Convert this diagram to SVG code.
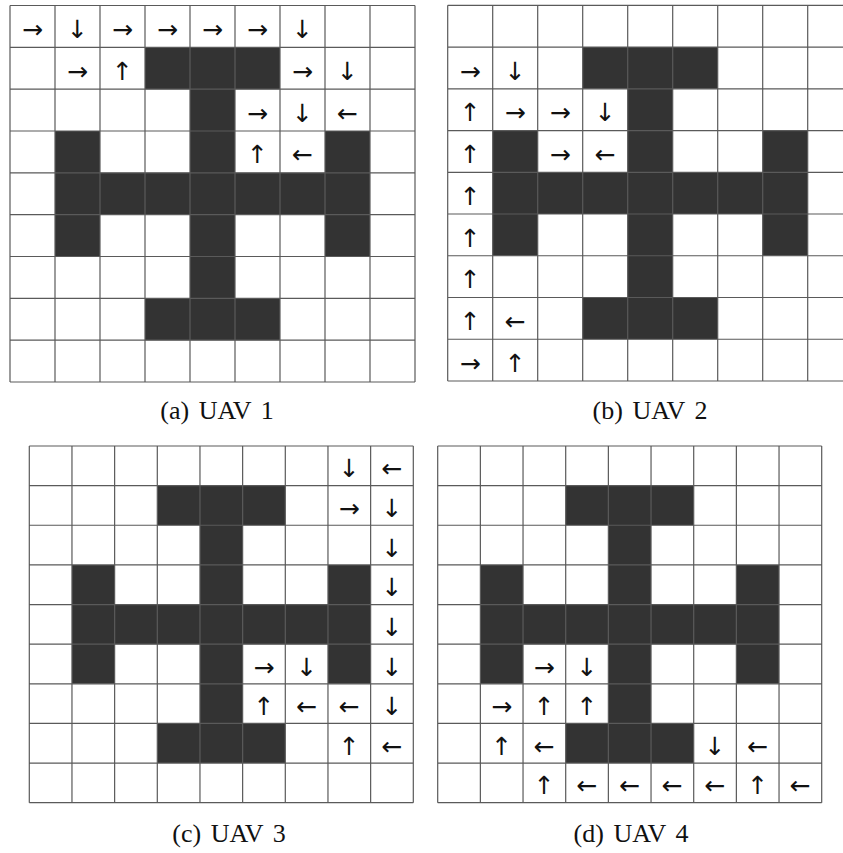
<svg xmlns="http://www.w3.org/2000/svg" xmlns:xlink="http://www.w3.org/1999/xlink" width="843" height="853" viewBox="0 0 843 853">
<style>
.bg{fill:#ffffff}
.obs{fill:#333333}
.grid{fill:none;stroke:#5a5a5a;stroke-width:1.2;vector-effect:non-scaling-stroke}
.ar{font-family:"DejaVu Sans","Noto Sans",sans-serif;font-size:25px;fill:#111;text-anchor:middle;dominant-baseline:central}
.cap{font-family:"Liberation Serif","DejaVu Serif",serif;font-size:26px;fill:#111;text-anchor:middle;word-spacing:3px}
</style>
<defs>
<g id="board">
<rect class="bg" x="0" y="0" width="9" height="9"/>
<path class="obs" d="M3 1h3v1h-3z M4 2h1v5h-1z M1 3h1v3h-1z M7 3h1v3h-1z M1 4h7v1h-7z M3 7h3v1h-3z"/>
<path class="grid" d="M0 0H9M0 1H9M0 2H9M0 3H9M0 4H9M0 5H9M0 6H9M0 7H9M0 8H9M0 9H9M0 0V9M1 0V9M2 0V9M3 0V9M4 0V9M5 0V9M6 0V9M7 0V9M8 0V9M9 0V9"/>
</g>
</defs>
<rect x="0" y="0" width="843" height="853" fill="#ffffff"/>

<g id="panel-a">
<use xlink:href="#board" transform="translate(10 5.5) scale(45 41.833)"/>
<g id="arrows-a">
<text class="ar" x="32.5" y="29.4">→︎</text>
<text class="ar" x="77.5" y="29.4">↓︎</text>
<text class="ar" x="122.5" y="29.4">→︎</text>
<text class="ar" x="167.5" y="29.4">→︎</text>
<text class="ar" x="212.5" y="29.4">→︎</text>
<text class="ar" x="257.5" y="29.4">→︎</text>
<text class="ar" x="302.5" y="29.4">↓︎</text>
<text class="ar" x="77.5" y="71.3">→︎</text>
<text class="ar" x="122.5" y="71.3">↑︎</text>
<text class="ar" x="302.5" y="71.3">→︎</text>
<text class="ar" x="347.5" y="71.3">↓︎</text>
<text class="ar" x="257.5" y="113.1">→︎</text>
<text class="ar" x="302.5" y="113.1">↓︎</text>
<text class="ar" x="347.5" y="113.1">←︎</text>
<text class="ar" x="257.5" y="154.9">↑︎</text>
<text class="ar" x="302.5" y="154.9">←︎</text>
</g>
<text class="cap" x="217" y="419">(a) UAV 1</text>
</g>

<g id="panel-b">
<use xlink:href="#board" transform="translate(447.7 5.3) scale(45 41.744)"/>
<g id="arrows-b">
<text class="ar" x="470.2" y="71.2">→︎</text>
<text class="ar" x="515.2" y="71.2">↓︎</text>
<text class="ar" x="470.2" y="112.9">↑︎</text>
<text class="ar" x="515.2" y="112.9">→︎</text>
<text class="ar" x="560.2" y="112.9">→︎</text>
<text class="ar" x="605.2" y="112.9">↓︎</text>
<text class="ar" x="470.2" y="154.7">↑︎</text>
<text class="ar" x="560.2" y="154.7">→︎</text>
<text class="ar" x="605.2" y="154.7">←︎</text>
<text class="ar" x="470.2" y="196.4">↑︎</text>
<text class="ar" x="470.2" y="238.1">↑︎</text>
<text class="ar" x="470.2" y="279.9">↑︎</text>
<text class="ar" x="470.2" y="321.6">↑︎</text>
<text class="ar" x="515.2" y="321.6">←︎</text>
<text class="ar" x="470.2" y="363.4">→︎</text>
<text class="ar" x="515.2" y="363.4">↑︎</text>
</g>
<text class="cap" x="650" y="419">(b) UAV 2</text>
</g>

<g id="panel-c">
<use xlink:href="#board" transform="translate(29.3 446) scale(42.667 39.633)"/>
<g id="arrows-c">
<text class="ar" x="349.3" y="468.8">↓︎</text>
<text class="ar" x="392" y="468.8">←︎</text>
<text class="ar" x="349.3" y="508.5">→︎</text>
<text class="ar" x="392" y="508.5">↓︎</text>
<text class="ar" x="392" y="548.1">↓︎</text>
<text class="ar" x="392" y="587.7">↓︎</text>
<text class="ar" x="392" y="627.4">↓︎</text>
<text class="ar" x="264" y="667">→︎</text>
<text class="ar" x="306.7" y="667">↓︎</text>
<text class="ar" x="392" y="667">↓︎</text>
<text class="ar" x="264" y="706.6">↑︎</text>
<text class="ar" x="306.7" y="706.6">←︎</text>
<text class="ar" x="349.3" y="706.6">←︎</text>
<text class="ar" x="392" y="706.6">↓︎</text>
<text class="ar" x="349.3" y="746.3">↑︎</text>
<text class="ar" x="392" y="746.3">←︎</text>
</g>
<text class="cap" x="229" y="842">(c) UAV 3</text>
</g>

<g id="panel-d">
<use xlink:href="#board" transform="translate(437.7 446) scale(42.667 39.633)"/>
<g id="arrows-d">
<text class="ar" x="544.3" y="667">→︎</text>
<text class="ar" x="587" y="667">↓︎</text>
<text class="ar" x="501.7" y="706.6">→︎</text>
<text class="ar" x="544.3" y="706.6">↑︎</text>
<text class="ar" x="587" y="706.6">↑︎</text>
<text class="ar" x="501.7" y="746.3">↑︎</text>
<text class="ar" x="544.3" y="746.3">←︎</text>
<text class="ar" x="715" y="746.3">↓︎</text>
<text class="ar" x="757.7" y="746.3">←︎</text>
<text class="ar" x="544.3" y="785.9">↑︎</text>
<text class="ar" x="587" y="785.9">←︎</text>
<text class="ar" x="629.7" y="785.9">←︎</text>
<text class="ar" x="672.3" y="785.9">←︎</text>
<text class="ar" x="715" y="785.9">←︎</text>
<text class="ar" x="757.7" y="785.9">↑︎</text>
<text class="ar" x="800.3" y="785.9">←︎</text>
</g>
<text class="cap" x="631" y="842">(d) UAV 4</text>
</g>
</svg>
